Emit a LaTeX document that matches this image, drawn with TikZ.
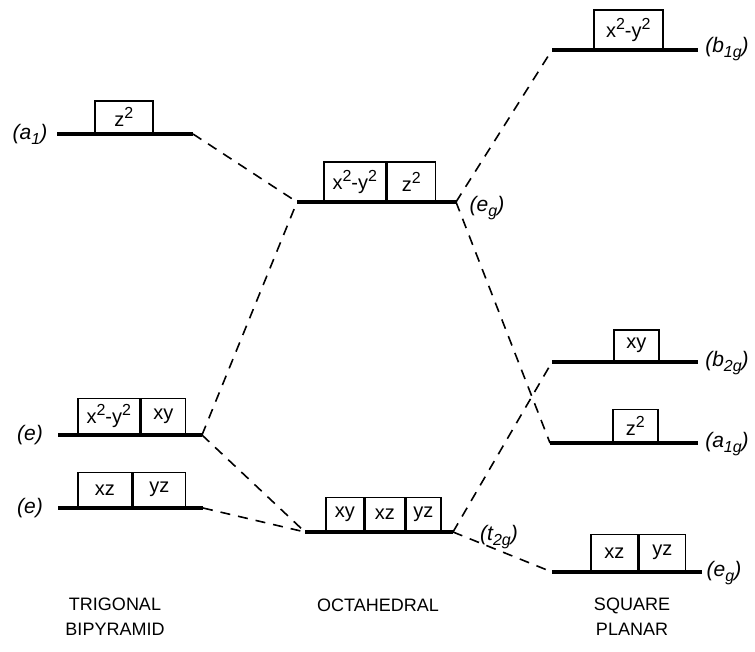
\documentclass[tikz,border=0pt]{standalone}
\usepackage{fontspec}
\setmainfont{Liberation Sans}
\usetikzlibrary{positioning}
\newcommand\pw[1]{\raisebox{0.75ex}{\fontsize{8}{8}\selectfont #1}}
\newcommand\dn[1]{\raisebox{-0.45ex}{\fontsize{8}{8}\selectfont #1}}

\begin{document}
\begin{tikzpicture}[x=0.5pt,y=-0.5pt,
  level/.style={line width=1.6pt},
  orb/.style={draw,line width=0.75pt,anchor=south west,inner sep=0pt,
    minimum height=17.5pt,font=\fontsize{10}{10}\selectfont},
  link/.style={line width=0.8pt,dash pattern=on 5pt off 4pt},
  tag/.style={font=\fontsize{10.5}{10}\selectfont\itshape},
  geom/.style={align=center,font=\fontsize{9}{12.5}\selectfont}]
  \useasboundingbox (0,0) rectangle (755,652);

  % level end points
  \coordinate (a1L) at (57,134);   \coordinate (a1R) at (193,134);
  \coordinate (e1L) at (58,435);   \coordinate (e1R) at (202,435);
  \coordinate (e2L) at (58,508);   \coordinate (e2R) at (203,508);
  \coordinate (egL) at (297,202);  \coordinate (egR) at (456,202);
  \coordinate (t2L) at (305,532);  \coordinate (t2R) at (453,532);
  \coordinate (b1L) at (552,50);   \coordinate (b1R) at (698,50);
  \coordinate (b2L) at (552,362);  \coordinate (b2R) at (698,362);
  \coordinate (a1gL) at (550,443); \coordinate (a1gR) at (698,443);
  \coordinate (eg2L) at (552,572); \coordinate (eg2R) at (702,572);

  \foreach \l in {a1,e1,e2,eg,t2,b1,b2,a1g,eg2}
    \draw[level] (\l L) -- (\l R);

  % trigonal bipyramid
  \node[orb,minimum width=29pt,minimum height=16pt] (tbz) at (94,134) {z\pw{2}};
  \node[orb,minimum width=31pt,minimum height=18pt] (tbxy2) at (77,435) {x\pw{2}-y\pw{2}};
  \node[orb,minimum width=22pt,minimum height=18pt] (tbxy) at (tbxy2.south east) {xy};
  \node[orb,minimum width=27pt] (tbxz) at (77,508) {xz};
  \node[orb,minimum width=26pt] (tbyz) at (tbxz.south east) {yz};

  % octahedral
  \node[orb,minimum width=31pt,minimum height=19.5pt] (ohxy2) at (323,202) {x\pw{2}-y\pw{2}};
  \node[orb,minimum width=24pt,minimum height=19.5pt] (ohz) at (ohxy2.south east) {z\pw{2}};
  \node[orb,minimum width=19pt,minimum height=17pt] (ohxy) at (325,532) {xy};
  \node[orb,minimum width=19.5pt,minimum height=17pt] (ohxz) at (ohxy.south east) {xz};
  \node[orb,minimum width=17.5pt,minimum height=17pt] (ohyz) at (ohxz.south east) {yz};

  % square planar
  \node[orb,minimum width=34.5pt,minimum height=19.5pt] (spxy2) at (593,50) {x\pw{2}-y\pw{2}};
  \node[orb,minimum width=22.5pt,minimum height=15.5pt] (spxy) at (613,362) {xy};
  \node[orb,minimum width=22.5pt,minimum height=16.5pt] (spz) at (612,443) {z\pw{2}};
  \node[orb,minimum width=23.5pt,minimum height=18.5pt] (spxz) at (590,572) {xz};
  \node[orb,minimum width=23pt,minimum height=18.5pt] (spyz) at (spxz.south east) {yz};

  % correlation lines
  \draw[link] (a1R) -- (egL);
  \draw[link] (e1R) -- (egL);
  \draw[link] (e1R) -- (t2L);
  \draw[link] (e2R) -- (t2L);
  \draw[link] (egR) -- (b1L);
  \draw[link] (egR) -- (a1gL);
  \draw[link] (t2R) -- (b2L);
  \draw[link] (t2R) -- (eg2L);

  % symmetry labels
  \node[tag] (ta1) at (30,134) {(a\dn{1})};
  \node[tag] (te1) at (30,435) {(e)};
  \node[tag] (te2) at (30,508) {(e)};
  \node[tag] (teg) at (487,208) {(e\dn{g})};
  \node[tag] (tt2) at (499,537) {(t\dn{2g})};
  \node[tag] (tb1) at (727,49) {(b\dn{1g})};
  \node[tag] (tb2) at (727,363) {(b\dn{2g})};
  \node[tag] (ta1g) at (727,444) {(a\dn{1g})};
  \node[tag] (teg2) at (724,573) {(e\dn{g})};

  \node[geom] (tbname) at (115,617) {TRIGONAL\\BIPYRAMID};
  \node[geom] (ohname) at (378,605) {OCTAHEDRAL};
  \node[geom] (spname) at (632,617) {SQUARE\\PLANAR};
\end{tikzpicture}
\end{document}
